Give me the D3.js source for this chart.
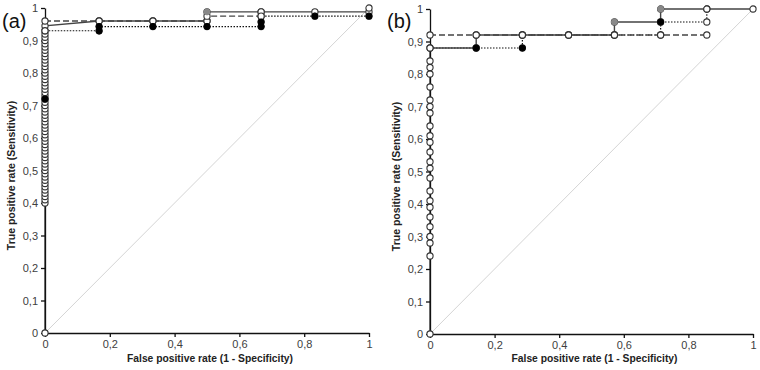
<!DOCTYPE html>
<html>
<head>
<meta charset="utf-8">
<script src="https://cdn.jsdelivr.net/npm/d3@7"></script>
<style>
  body { margin: 0; background: #fff; }
  svg { display: block; font-family: "Liberation Sans", Arial, sans-serif; }
</style>
</head>
<body>
<svg id="chart" width="760" height="370"></svg>
<script>
// tick values
let ticksX = [0, 0.2, 0.4, 0.6, 0.8, 1]
let ticksY = [0, 0.1, 0.2, 0.3, 0.4, 0.5, 0.6, 0.7, 0.8, 0.9, 1]

// panel (a) curves, [fpr, tpr]
let aSolid = [[0, 0], [0, 0.40], [0, 0.41], [0, 0.42], [0, 0.43], [0, 0.44], [0, 0.45], [0, 0.46],
  [0, 0.47], [0, 0.48], [0, 0.49], [0, 0.50], [0, 0.51], [0, 0.52], [0, 0.53], [0, 0.54], [0, 0.55],
  [0, 0.56], [0, 0.57], [0, 0.58], [0, 0.59], [0, 0.60], [0, 0.61], [0, 0.62], [0, 0.63], [0, 0.64],
  [0, 0.65], [0, 0.66], [0, 0.67], [0, 0.68], [0, 0.69], [0, 0.70], [0, 0.71], [0, 0.72], [0, 0.73],
  [0, 0.74], [0, 0.75], [0, 0.76], [0, 0.77], [0, 0.78], [0, 0.79], [0, 0.80], [0, 0.81], [0, 0.82],
  [0, 0.83], [0, 0.84], [0, 0.85], [0, 0.86], [0, 0.87], [0, 0.88], [0, 0.89], [0, 0.90], [0, 0.91],
  [0, 0.92], [0, 0.93], [0, 0.945], [0.167, 0.96], [0.333, 0.96], [0.5, 0.96], [0.5, 0.988],
  [0.667, 0.988], [0.833, 0.988], [1, 0.988], [1, 1]]
let aDashed = [[0, 0.96], [0.167, 0.96], [0.333, 0.96], [0.5, 0.96], [0.5, 0.975], [0.667, 0.975], [0.667, 0.988]]
let aDotted = [[0, 0.72], [0, 0.93], [0.167, 0.93], [0.167, 0.943], [0.333, 0.943], [0.5, 0.943],
  [0.667, 0.943], [0.667, 0.957], [0.667, 0.975], [0.833, 0.975], [1, 0.975]]
let aBlack = [[0, 0.72], [0.167, 0.929], [0.167, 0.943], [0.333, 0.943], [0.5, 0.943], [0.667, 0.943],
  [0.667, 0.957], [0.833, 0.975], [1, 0.975]]
let aGray = [[0.5, 0.988]]

// panel (b) curves
let bSolid = [[0, 0], [0, 0.24], [0, 0.28], [0, 0.30], [0, 0.33], [0, 0.36], [0, 0.39], [0, 0.41],
  [0, 0.44], [0, 0.48], [0, 0.51], [0, 0.53], [0, 0.56], [0, 0.59], [0, 0.61], [0, 0.64], [0, 0.68],
  [0, 0.70], [0, 0.72], [0, 0.76], [0, 0.80], [0, 0.82], [0, 0.84], [0, 0.88], [0.143, 0.88],
  [0.143, 0.92], [0.286, 0.92], [0.429, 0.92], [0.571, 0.92], [0.571, 0.96], [0.714, 0.96],
  [0.714, 1], [0.857, 1], [1, 1]]
let bDashed = [[0, 0.92], [0.143, 0.92], [0.286, 0.92], [0.429, 0.92], [0.571, 0.92], [0.714, 0.92], [0.857, 0.92]]
let bDotted = [[0, 0.88], [0.143, 0.88], [0.286, 0.88], [0.286, 0.92], [0.429, 0.92], [0.571, 0.92],
  [0.714, 0.92], [0.714, 0.96], [0.857, 0.96], [0.857, 1]]
let bBlack = [[0.143, 0.88], [0.286, 0.88], [0.714, 0.96]]
let bGray = [[0.571, 0.96], [0.714, 1]]

let svg = d3.select('#chart')

let fmt = d => d3.format('.1~f')(d).replace('.', ',')

function drawPanel(p) {
  let x = d3.scaleLinear().domain([0, 1]).range([p.left, p.right])
  let y = d3.scaleLinear().domain([0, 1]).range([p.bottom, p.top])
  let g = svg.append('g')

  // reference diagonal
  g.append('line')
    .attr('x1', x(0)).attr('y1', y(0)).attr('x2', x(1)).attr('y2', y(1))
    .attr('stroke', '#d4d4d4').attr('stroke-width', 1)

  let line = d3.line().x(d => x(d[0])).y(d => y(d[1]))

  g.append('path').attr('d', line(p.dotted)).attr('fill', 'none')
    .attr('stroke', '#111').attr('stroke-width', 1.2).attr('stroke-dasharray', '1.5,1.5')
  g.append('path').attr('d', line(p.dashed)).attr('fill', 'none')
    .attr('stroke', '#444').attr('stroke-width', 1.4).attr('stroke-dasharray', '6,3')
  g.append('path').attr('d', line(p.solid)).attr('fill', 'none')
    .attr('stroke', '#444').attr('stroke-width', 1.4)

  // axes
  g.append('g').attr('class', 'axis x')
    .attr('transform', 'translate(0,' + p.bottom + ')')
    .call(d3.axisBottom(x).tickValues(ticksX).tickFormat(fmt).tickSize(4).tickSizeOuter(0))
  g.append('g').attr('class', 'axis y')
    .attr('transform', 'translate(' + p.left + ',0)')
    .call(d3.axisLeft(y).tickValues(ticksY).tickFormat(fmt).tickSize(4).tickSizeOuter(0))
  g.selectAll('.axis path, .axis line').attr('stroke', '#111').attr('stroke-width', 1.3)
  g.selectAll('.axis text').attr('fill', '#404040').attr('font-size', 11)
    .attr('font-family', '"Liberation Sans", Arial, sans-serif')

  // markers
  let open = p.solid.concat(p.dashed, p.dotted)
  g.selectAll('.open').data(open).enter().append('circle')
    .attr('cx', d => x(d[0])).attr('cy', d => y(d[1])).attr('r', 3.1)
    .attr('fill', '#fff').attr('stroke', '#333').attr('stroke-width', 1.1)
  g.selectAll('.black').data(p.black).enter().append('circle')
    .attr('cx', d => x(d[0])).attr('cy', d => y(d[1])).attr('r', 3)
    .attr('fill', '#000').attr('stroke', '#000').attr('stroke-width', 1)
  g.selectAll('.gray').data(p.gray).enter().append('circle')
    .attr('cx', d => x(d[0])).attr('cy', d => y(d[1])).attr('r', 3)
    .attr('fill', '#888').attr('stroke', '#888').attr('stroke-width', 1)

  // titles
  g.append('text')
    .attr('transform', 'translate(' + p.ytx + ',' + (p.top + p.bottom + 10) / 2 + ') rotate(-90)')
    .attr('text-anchor', 'middle').attr('font-size', 10.5).attr('font-weight', 'bold').attr('fill', '#222')
    .text('True positive rate (Sensitivity)')
  g.append('text')
    .attr('x', (p.left + p.right) / 2 + 3).attr('y', 362)
    .attr('text-anchor', 'middle').attr('font-size', 10.3).attr('font-weight', 'bold').attr('fill', '#222')
    .text('False positive rate (1 - Specificity)')
  g.append('text')
    .attr('x', p.labelX).attr('y', 28)
    .attr('font-size', 20).attr('fill', '#111')
    .text(p.label)
}

drawPanel({ left: 45, right: 369, top: 8, bottom: 333, ytx: 15, labelX: 2, label: '(a)',
  solid: aSolid, dashed: aDashed, dotted: aDotted, black: aBlack, gray: aGray })
drawPanel({ left: 430, right: 753, top: 9, bottom: 334, ytx: 400, labelX: 387, label: '(b)',
  solid: bSolid, dashed: bDashed, dotted: bDotted, black: bBlack, gray: bGray })
</script>
</body>
</html>
